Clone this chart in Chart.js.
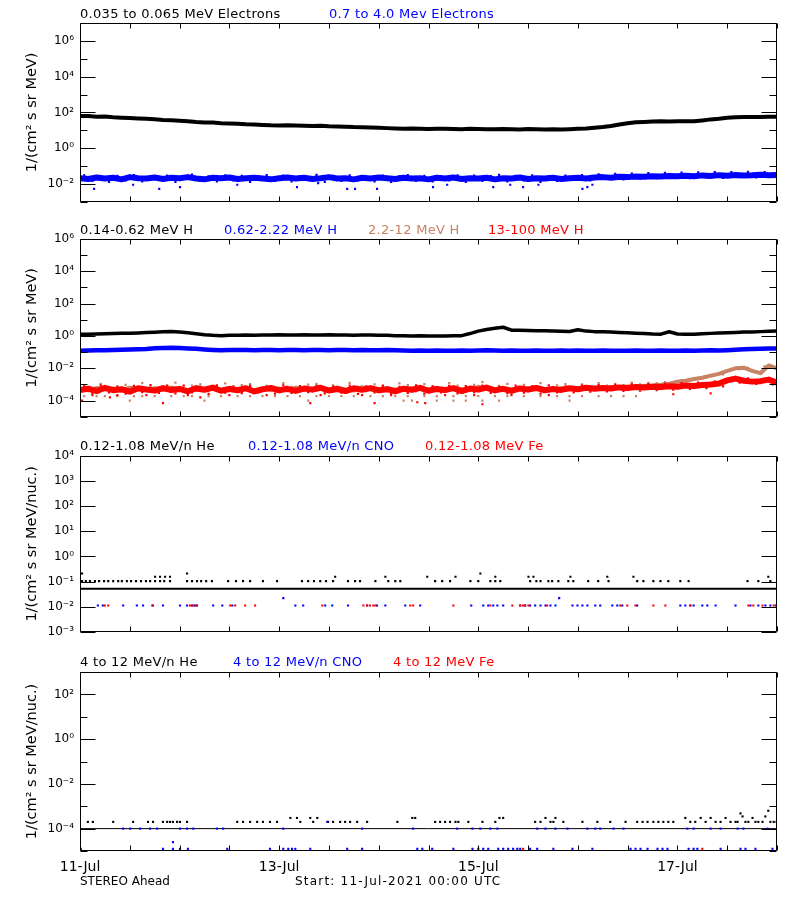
<!DOCTYPE html>
<html><head><meta charset="utf-8">
<script src="https://cdn.jsdelivr.net/npm/chart.js@4.4.1/dist/chart.umd.min.js"></script>
<style>
body{margin:0;background:#fff;width:800px;height:900px;position:relative;overflow:hidden;font-family:"DejaVu Sans",sans-serif;}
canvas{position:absolute;left:0;}
.t{position:absolute;font-size:13px;line-height:13px;white-space:nowrap;letter-spacing:0.3px;z-index:5;}
.b{position:absolute;font-size:12px;line-height:12px;white-space:nowrap;z-index:5;}
</style></head><body>
<canvas id="c1" width="800" height="215" style="top:0px"></canvas>
<canvas id="c2" width="800" height="215" style="top:215px"></canvas>
<canvas id="c3" width="800" height="215" style="top:430px"></canvas>
<canvas id="c4" width="800" height="255" style="top:645px"></canvas>

<div class="t" style="left:80px;top:7px;color:#000">0.035 to 0.065 MeV Electrons</div>
<div class="t" style="left:329px;top:7px;color:#0000ff">0.7 to 4.0 Mev Electrons</div>

<div class="t" style="left:80px;top:223px;color:#000">0.14-0.62 MeV H</div>
<div class="t" style="left:224px;top:223px;color:#0000ff">0.62-2.22 MeV H</div>
<div class="t" style="left:368px;top:223px;color:#c88264">2.2-12 MeV H</div>
<div class="t" style="left:488px;top:223px;color:#ff0000">13-100 MeV H</div>

<div class="t" style="left:80px;top:439px;color:#000">0.12-1.08 MeV/n He</div>
<div class="t" style="left:248px;top:439px;color:#0000ff">0.12-1.08 MeV/n CNO</div>
<div class="t" style="left:425px;top:439px;color:#ff0000">0.12-1.08 MeV Fe</div>

<div class="t" style="left:80px;top:655px;color:#000">4 to 12 MeV/n He</div>
<div class="t" style="left:233px;top:655px;color:#0000ff">4 to 12 MeV/n CNO</div>
<div class="t" style="left:393px;top:655px;color:#ff0000">4 to 12 MeV Fe</div>

<div class="b" style="left:80px;top:875px;">STEREO Ahead</div>
<div class="b" style="left:295px;top:875px;letter-spacing:1.2px">Start: 11-Jul-2021 00:00 UTC</div>

<script>
// ---------- axis / tick data ----------
const xTickHours = [0,12,24,36,48,60,72,84,96,108,120,132,144,156,168];
const xTickLabels = ['11-Jul','','','','13-Jul','','','','15-Jul','','','','17-Jul','',''];

const p1YTicks = [1e-3,1e-2,1e-1,1e0,1e1,1e2,1e3,1e4,1e5,1e6,1e7];
const p1YLabels = ['','10⁻²','','10⁰','','10²','','10⁴','','10⁶',''];
const p2YTicks = [1e-5,1e-4,1e-3,1e-2,1e-1,1e0,1e1,1e2,1e3,1e4,1e5,1e6];
const p2YLabels = ['','10⁻⁴','','10⁻²','','10⁰','','10²','','10⁴','','10⁶'];
const p3YTicks = [1e-3,1e-2,1e-1,1e0,1e1,1e2,1e3,1e4];
const p3YLabels = ['10⁻³','10⁻²','10⁻¹','10⁰','10¹','10²','10³','10⁴'];
const p4YTicks = [1e-5,1e-4,1e-3,1e-2,1e-1,1e0,1e1,1e2,1e3];
const p4YLabels = ['','10⁻⁴','','10⁻²','','10⁰','','10²',''];

// hours since 11-Jul-2021 00:00 UTC
const hours2 = [0,2,4,6,8,10,12,14,16,18,20,22,24,26,28,30,32,34,36,38,40,42,44,46,48,50,52,54,56,58,60,62,64,66,68,70,72,74,76,78,80,82,84,86,88,90,92,94,96,98,100,102,104,106,108,110,112,114,116,118,120,122,124,126,128,130,132,134,136,138,140,142,144,146,148,150,152,154,156,158,160,162,164,166,168];
const hoursOdd = [1,3,5,7,9,11,13,15,17,19,21,23,25,27,29,31,33,35,37,39,41,43,45,47,49,51,53,55,57,59,61,63,65,67,69,71,73,75,77,79,81,83,85,87,89,91,93,95,97,99,101,103,105,107,109,111,113,115,117,119,121,123,125,127,129,131,133,135,137,139,141,143,145,147,149,151,153,155,157,159,161,163,165,167];

// ---------- panel 1: electrons ----------
const eLow = [63,62,58,59,54,51,49,46,44,42,
  38,36,34,32,29,27.5,27,25,24,23.5,
  21.5,21,20,19,18.6,19,18.6,17.8,17.4,17.8,
  16.6,16.2,15.8,15.1,14.8,14.5,13.8,13.2,12.6,12.3,
  12.6,12,11.7,12.3,12,11.7,11.5,12,11.7,11.5,
  11.5,11.7,11.5,11.2,11.7,11.5,11.2,11.5,11.2,11.5,
  12,12.6,13.8,15.1,17.4,20.9,25,28,29.5,31,
  31.6,31,31.6,32.4,31.6,35.5,40.7,43.6,50,53.7,
  55,56,55,57.5,57.5];
const eHigh = [0.021,0.019,0.023,0.020,0.022,0.018,0.024,0.021,0.020,0.023,
  0.019,0.022,0.021,0.024,0.020,0.018,0.022,0.021,0.023,0.019,
  0.021,0.022,0.020,0.018,0.021,0.023,0.020,0.022,0.019,0.021,
  0.024,0.020,0.021,0.018,0.022,0.020,0.023,0.021,0.019,0.022,
  0.020,0.021,0.018,0.022,0.020,0.023,0.019,0.021,0.020,0.022,
  0.018,0.021,0.020,0.023,0.019,0.021,0.020,0.022,0.019,0.021,
  0.022,0.020,0.023,0.024,0.022,0.025,0.024,0.026,0.025,0.027,
  0.026,0.028,0.027,0.029,0.027,0.030,0.028,0.031,0.029,0.032,
  0.030,0.031,0.033,0.031,0.032];
const eHighSpread = [0.030,0.015,0.026,0.013,0.028,0.016,0.031,0.014,0.025,0.017,
  0.029,0.013,0.027,0.033,0.015,0.026,0.014,0.030,0.016,0.028,
  0.013,0.027,0.031,0.015,0.029,0.014,0.026,0.017,0.032,0.013,
  0.028,0.015,0.030,0.016,0.025,0.014,0.029,0.013,0.027,0.031,
  0.015,0.028,0.014,0.026,0.016,0.030,0.013,0.029,0.015,0.027,
  0.032,0.014,0.028,0.016,0.030,0.013,0.026,0.015,0.029,0.017,
  0.031,0.016,0.034,0.019,0.036,0.018,0.038,0.020,0.040,0.021,
  0.041,0.022,0.043,0.021,0.044,0.023,0.045,0.022,0.046,0.024,
  0.047,0.023,0.045,0.025];
const eHighLow = [[3.4,0.0053],[12.8,0.009],[19.1,0.0053],[24.1,0.0066],[37.9,0.009],[52.3,0.0066],[57.4,0.011],[64.4,0.0053],[66.3,0.0053],[71.6,0.0053],[85.1,0.0066],[88.5,0.009],[99.6,0.0066],[103.7,0.009],[106.8,0.0066],[110.5,0.009],[121.1,0.0053],[122.3,0.0066],[123.5,0.009]];

// ---------- panel 2: protons ----------
const hA = [1.26,1.29,1.32,1.38,1.41,1.45,1.48,1.55,1.62,1.70,
  1.82,1.91,1.78,1.58,1.38,1.20,1.10,1.05,1.10,1.12,
  1.15,1.12,1.17,1.15,1.20,1.17,1.15,1.20,1.17,1.15,
  1.20,1.17,1.15,1.12,1.17,1.15,1.12,1.10,1.05,1.02,
  1.00,1.02,1.00,0.98,1.00,1.02,1.05,1.41,2.00,2.51,
  3.02,3.47,2.29,2.29,2.19,2.14,2.09,2.00,1.95,1.91,
  2.40,2.00,1.86,1.82,1.74,1.66,1.58,1.48,1.41,1.32,
  1.29,1.82,1.32,1.26,1.29,1.38,1.45,1.51,1.58,1.66,
  1.74,1.78,1.86,1.95,2.00];
const hB = [0.123,0.126,0.129,0.132,0.135,0.141,0.145,0.151,0.158,0.174,
  0.182,0.186,0.178,0.170,0.162,0.148,0.138,0.132,0.135,0.138,
  0.135,0.132,0.138,0.135,0.132,0.135,0.138,0.132,0.135,0.138,
  0.132,0.135,0.138,0.132,0.135,0.132,0.129,0.135,0.129,0.126,
  0.123,0.126,0.120,0.126,0.123,0.120,0.126,0.123,0.126,0.129,
  0.126,0.123,0.126,0.120,0.123,0.126,0.123,0.120,0.126,0.123,
  0.126,0.123,0.120,0.126,0.123,0.120,0.123,0.126,0.120,0.123,
  0.126,0.123,0.120,0.126,0.123,0.126,0.129,0.126,0.132,0.141,
  0.151,0.158,0.162,0.166,0.170];
const hC = [5.2e-4,4.3e-4,6.1e-4,4.8e-4,5.6e-4,4.1e-4,6.4e-4,5.0e-4,4.5e-4,5.9e-4,
  4.7e-4,6.6e-4,5.1e-4,4.2e-4,7.0e-4,4.9e-4,5.5e-4,4.4e-4,6.2e-4,4.8e-4,
  5.3e-4,4.1e-4,6.0e-4,4.6e-4,5.7e-4,4.3e-4,6.3e-4,5.0e-4,4.4e-4,5.8e-4,
  4.6e-4,6.5e-4,4.9e-4,4.2e-4,6.8e-4,5.1e-4,4.5e-4,5.9e-4,4.7e-4,5.4e-4,
  4.3e-4,6.1e-4,4.8e-4,5.6e-4,4.1e-4,6.4e-4,5.0e-4,4.6e-4,7.2e-4,5.2e-4,
  4.5e-4,6.0e-4,4.8e-4,5.5e-4,4.3e-4,6.2e-4,5.0e-4,4.7e-4,5.8e-4,5.3e-4,
  6.0e-4,5.2e-4,6.5e-4,5.8e-4,6.9e-4,6.2e-4,7.4e-4,7.0e-4,8.1e-4,8.6e-4,
  9.5e-4,1.1e-3,1.5e-3,1.7e-3,2.2e-3,2.6e-3,3.5e-3,4.5e-3,7.0e-3,1.0e-2,
  1.1e-2,7.0e-3,5.0e-3,1.5e-2,1.0e-2];
const hCSpread = [8.0e-4,3.5e-4,1.1e-3,4.0e-4,7.5e-4,9.5e-4,3.8e-4,1.2e-3,6.5e-4,4.2e-4,
  9.0e-4,1.3e-3,3.6e-4,8.5e-4,1.0e-3,4.1e-4,7.8e-4,1.15e-3,3.9e-4,9.2e-4,
  1.05e-3,4.3e-4,8.2e-4,3.7e-4,1.2e-3,7.0e-4,4.0e-4,9.8e-4,1.1e-3,3.8e-4,
  8.8e-4,4.4e-4,1.25e-3,7.2e-4,3.9e-4,1.0e-3,8.0e-4,4.1e-4,1.15e-3,9.0e-4,
  3.7e-4,1.05e-3,7.6e-4,4.2e-4,1.2e-3,8.6e-4,3.8e-4,9.4e-4,1.4e-3,4.0e-4,
  8.3e-4,1.1e-3,4.3e-4,9.6e-4,7.4e-4,1.2e-3,3.9e-4,8.8e-4,1.05e-3,4.5e-4,
  1.0e-3,7.8e-4,1.2e-3,8.5e-4,1.1e-3,9.2e-4,1.3e-3,1.0e-3,1.25e-3,1.2e-3,
  1.4e-3,1.3e-3,1.7e-3,1.9e-3,2.4e-3,2.8e-3,3.9e-3,4.2e-3,8.0e-3,9.0e-3,
  1.05e-2,6.5e-3,1.3e-2,1.2e-2];
const hCLow = [[1,1.9e-4],[4,1.9e-4],[6,1.9e-4],[9,1.9e-4],[13,1.9e-4],[15,1.9e-4],[18,1.9e-4],[22,1.9e-4],[25,1.9e-4],[27,1.9e-4],[31,1.9e-4],[34,1.9e-4],[38,1.9e-4],[41,1.9e-4],[44,1.9e-4],[47,1.9e-4],[50,1.9e-4],[53,1.9e-4],[57,1.9e-4],[60,1.9e-4],[63,1.9e-4],[66,1.9e-4],[70,1.9e-4],[73,1.9e-4],[76,1.9e-4],[79,1.9e-4],[83,1.9e-4],[86,1.9e-4],[90,1.9e-4],[93,1.9e-4],[96,1.9e-4],[100,1.9e-4],[103,1.9e-4],[107,1.9e-4],[111,1.9e-4],[115,1.9e-4],[118,1.9e-4],[121,1.9e-4],[125,1.9e-4],[128,1.9e-4],[131,1.9e-4],[134,1.9e-4],
  [12,1.0e-4],[30,1.0e-4],[55,1.0e-4],[78,1.0e-4],[80,1.0e-4],[86,1.0e-4],[90,1.0e-4],[93,1.0e-4],[97,1.0e-4],[101,1.0e-4],[118,1.0e-4]];
const hD = [4.6e-4,5.5e-4,3.9e-4,6.2e-4,4.4e-4,5.1e-4,3.6e-4,5.8e-4,4.9e-4,4.2e-4,
  6.0e-4,4.5e-4,5.3e-4,3.8e-4,5.7e-4,4.7e-4,6.4e-4,4.1e-4,5.2e-4,4.4e-4,
  5.9e-4,3.7e-4,5.0e-4,6.1e-4,4.3e-4,5.4e-4,4.0e-4,5.6e-4,4.8e-4,6.3e-4,
  4.2e-4,5.2e-4,3.9e-4,5.8e-4,4.6e-4,6.0e-4,4.4e-4,5.1e-4,3.8e-4,5.5e-4,
  4.7e-4,6.2e-4,4.1e-4,5.3e-4,4.5e-4,5.9e-4,3.9e-4,5.6e-4,4.8e-4,6.4e-4,
  4.3e-4,5.4e-4,4.0e-4,5.7e-4,4.9e-4,6.1e-4,4.4e-4,5.2e-4,4.6e-4,5.8e-4,
  5.0e-4,6.3e-4,5.4e-4,6.0e-4,5.7e-4,6.6e-4,6.1e-4,7.0e-4,6.5e-4,7.3e-4,
  6.9e-4,7.8e-4,7.2e-4,8.5e-4,8.0e-4,9.3e-4,1.0e-3,1.15e-3,1.8e-3,2.3e-3,
  1.7e-3,1.5e-3,1.6e-3,2.0e-3,1.3e-3];
const hDSpread = [7.5e-4,2.9e-4,8.8e-4,3.2e-4,7.0e-4,2.7e-4,8.2e-4,3.4e-4,9.0e-4,3.0e-4,
  7.8e-4,2.8e-4,8.5e-4,3.3e-4,7.2e-4,2.6e-4,8.9e-4,3.1e-4,7.6e-4,2.9e-4,
  8.3e-4,3.2e-4,7.4e-4,2.7e-4,8.7e-4,3.0e-4,7.9e-4,3.4e-4,8.1e-4,2.8e-4,
  7.3e-4,3.1e-4,8.6e-4,2.6e-4,7.7e-4,3.3e-4,8.4e-4,2.9e-4,7.1e-4,3.0e-4,
  8.8e-4,2.7e-4,7.5e-4,3.2e-4,8.2e-4,2.8e-4,7.9e-4,3.4e-4,8.6e-4,3.0e-4,
  7.2e-4,2.9e-4,8.4e-4,3.1e-4,7.7e-4,2.7e-4,8.9e-4,3.3e-4,7.4e-4,3.2e-4,
  8.6e-4,3.6e-4,9.2e-4,3.8e-4,9.6e-4,4.0e-4,1.0e-3,4.2e-4,1.05e-3,4.5e-4,
  1.1e-3,4.8e-4,1.2e-3,5.3e-4,1.3e-3,6.0e-4,1.5e-3,7.5e-4,2.6e-3,1.3e-3,
  2.4e-3,1.1e-3,2.2e-3,1.0e-3];
const hDLow = [[0.5,1.0e-4],[7.2,1.6e-4],[20,7e-5],[29,1.6e-4],[55.5,7e-5],[71,7e-5],[81.3,8e-5],[83.2,7e-5],[97,6e-5],[143,2.5e-4],[152,2.8e-4],
  [3,2.2e-4],[9,2.2e-4],[16,2.2e-4],[26,2.2e-4],[36,2.2e-4],[45,2.2e-4],[58,2.2e-4],[68,2.2e-4],[75,2.2e-4],[88,2.2e-4],[95,2.2e-4],[104,2.2e-4],[113,2.2e-4]];

// ---------- panel 3: 0.12-1.08 MeV/n ions ----------
const he3Base = [[0,0.052],[168,0.052]];
const he3Pts = [[0.5,0.104],[1.4,0.104],[2.4,0.104],[3.6,0.104],[4.6,0.104],[5.8,0.104],[6.8,0.104],[8.0,0.104],[9.2,0.104],[10.1,0.104],[11.3,0.104],[12.3,0.104],[13.5,0.104],[14.7,0.104],[15.9,0.104],[16.9,0.104],[18.1,0.104],[19.3,0.104],[20.3,0.104],[21.7,0.104],[25.8,0.104],[27.0,0.104],[28.2,0.104],[29.2,0.104],[30.4,0.104],[31.8,0.104],[35.7,0.104],[37.6,0.104],[39.3,0.104],[41.0,0.104],[44.1,0.104],[47.5,0.104],[53.5,0.104],[55.0,0.104],[56.4,0.104],[57.9,0.104],[59.3,0.104],[61.0,0.104],[64.6,0.104],[66.3,0.104],[67.5,0.104],[71.2,0.104],[74.3,0.104],[76.0,0.104],[77.2,0.104],[85.6,0.104],[87.3,0.104],[89.2,0.104],[94.1,0.104],[96.0,0.104],[98.9,0.104],[100.1,0.104],[101.3,0.104],[108.5,0.104],[110.0,0.104],[111.0,0.104],[112.9,0.104],[113.8,0.104],[115.3,0.104],[117.7,0.104],[118.9,0.104],[122.5,0.104],[124.9,0.104],[127.4,0.104],[134.3,0.104],[135.8,0.104],[138.2,0.104],[139.9,0.104],[141.8,0.104],[144.7,0.104],[146.7,0.104],[160.9,0.104],[163.5,0.104],[166.4,0.104],
  [0.5,0.21],[18.1,0.156],[19.3,0.156],[20.5,0.156],[21.7,0.156],[25.8,0.21],[61.5,0.156],[73.6,0.156],[83.7,0.156],[90.5,0.156],[96.5,0.21],[100.1,0.156],[108.1,0.156],[109.3,0.156],[118.2,0.156],[127.1,0.156],[133.4,0.156],[165.9,0.156]];
const cno3Pts = [[4.3,0.0112],[5.5,0.0112],[10.4,0.0112],[13.7,0.0112],[15.2,0.0112],[17.6,0.0112],[20.0,0.0112],[24.1,0.0112],[25.8,0.0112],[27.0,0.0112],[27.7,0.0112],[28.2,0.0112],[32.1,0.0112],[34.3,0.0112],[36.7,0.0112],[51.9,0.0112],[53.8,0.0112],[59.1,0.0112],[60.8,0.0112],[64.6,0.0112],[69.2,0.0112],[71.6,0.0112],[73.6,0.0112],[78.4,0.0112],[82.0,0.0112],[94.3,0.0112],[97.2,0.0112],[98.4,0.0112],[99.6,0.0112],[100.6,0.0112],[102.0,0.0112],[106.1,0.0112],[107.3,0.0112],[108.5,0.0112],[109.7,0.0112],[111.0,0.0112],[112.2,0.0112],[113.4,0.0112],[114.6,0.0112],[118.7,0.0112],[119.9,0.0112],[121.1,0.0112],[122.3,0.0112],[124.2,0.0112],[125.4,0.0112],[128.3,0.0112],[129.5,0.0112],[130.7,0.0112],[134.3,0.0112],[144.7,0.0112],[145.9,0.0112],[147.1,0.0112],[147.9,0.0112],[150.0,0.0112],[151.2,0.0112],[153.2,0.0112],[158.0,0.0112],[161.6,0.0112],[163.5,0.0112],[165.2,0.0112],[166.4,0.0112],[167.7,0.0112],
  [49.0,0.022],[115.5,0.022]];
const fe3Pts = [[6.0,0.0112],[6.8,0.0112],[17.4,0.0112],[26.5,0.0112],[27.3,0.0112],[28.2,0.0112],[36.2,0.0112],[37.4,0.0112],[39.8,0.0112],[42.2,0.0112],[58.4,0.0112],[68.3,0.0112],[69.2,0.0112],[69.9,0.0112],[70.7,0.0112],[71.2,0.0112],[79.6,0.0112],[80.3,0.0112],[90.0,0.0112],[98.9,0.0112],[104.2,0.0112],[106.1,0.0112],[106.8,0.0112],[107.3,0.0112],[108.1,0.0112],[112.6,0.0112],[130.2,0.0112],[131.9,0.0112],[133.9,0.0112],[138.2,0.0112],[141.1,0.0112],[147.1,0.0112],[161.1,0.0112],[162.3,0.0112],[164.5,0.0112],[167.2,0.0112],[167.8,0.0112]];

// ---------- panel 4: 4-12 MeV/n ions ----------
const he4Base = [[0,1e-4],[168,1e-4]];
const he4Pts = [[1.9,2e-4],[3.1,2e-4],[8.0,2e-4],[12.8,2e-4],[16.4,2e-4],[17.6,2e-4],[20.0,2e-4],[21.0,2e-4],[21.7,2e-4],[22.4,2e-4],[23.4,2e-4],[24.1,2e-4],[25.8,2e-4],[37.9,2e-4],[39.3,2e-4],[41.0,2e-4],[42.7,2e-4],[44.1,2e-4],[45.8,2e-4],[47.5,2e-4],[50.7,3e-4],[52.3,3e-4],[53.1,2e-4],[55.5,3e-4],[56.2,2e-4],[57.2,3e-4],[59.8,2e-4],[61.0,2e-4],[62.7,2e-4],[63.9,2e-4],[65.1,2e-4],[66.8,2e-4],[69.2,2e-4],[76.5,2e-4],[80.1,3e-4],[80.8,3e-4],[85.6,2e-4],[86.8,2e-4],[88.0,2e-4],[89.2,2e-4],[90.5,2e-4],[91.2,2e-4],[93.6,2e-4],[97.0,2e-4],[100.1,2e-4],[101.1,3e-4],[102.0,3e-4],[109.7,2e-4],[111.0,2e-4],[112.2,3e-4],[113.4,2e-4],[114.1,2e-4],[114.6,3e-4],[116.5,2e-4],[121.1,2e-4],[124.7,2e-4],[127.8,2e-4],[131.5,2e-4],[134.3,2e-4],[135.6,2e-4],[136.8,2e-4],[138.2,2e-4],[139.4,2e-4],[140.6,2e-4],[141.8,2e-4],[143.0,2e-4],[145.9,3e-4],[147.1,2e-4],[148.3,2e-4],[149.6,3e-4],[150.8,2e-4],[152.0,3e-4],[153.2,2e-4],[154.4,2e-4],[155.6,3e-4],[156.8,2e-4],[158.0,2e-4],[158.5,2e-4],[159.2,4.8e-4],[159.7,3.5e-4],[160.4,2e-4],[161.1,2e-4],[162.1,3e-4],[162.8,2e-4],[163.5,2e-4],[164.5,2e-4],[165.2,3.5e-4],[165.9,6.3e-4],[166.4,2e-4],[167.2,2e-4],[167.9,2e-4]];
const cno4Pts = [[0.2,1.25e-5],[20.0,1.25e-5],[22.4,1.25e-5],[24.1,1.25e-5],[26.0,1.25e-5],[35.5,1.25e-5],[45.8,1.25e-5],[49.0,1.25e-5],[50.2,1.25e-5],[51.1,1.25e-5],[51.9,1.25e-5],[55.5,1.25e-5],[64.4,1.25e-5],[68.0,1.25e-5],[81.3,1.25e-5],[82.5,1.25e-5],[84.9,1.25e-5],[90.0,1.25e-5],[94.6,1.25e-5],[96.0,1.25e-5],[97.2,1.25e-5],[98.4,1.25e-5],[100.8,1.25e-5],[102.0,1.25e-5],[103.2,1.25e-5],[104.4,1.25e-5],[105.4,1.25e-5],[106.1,1.25e-5],[108.5,1.25e-5],[110.2,1.25e-5],[114.1,1.25e-5],[118.7,1.25e-5],[123.5,1.25e-5],[132.7,1.25e-5],[133.9,1.25e-5],[135.1,1.25e-5],[136.8,1.25e-5],[139.2,1.25e-5],[140.4,1.25e-5],[141.6,1.25e-5],[146.7,1.25e-5],[147.9,1.25e-5],[148.8,1.25e-5],[154.4,1.25e-5],[159.2,1.25e-5],[160.4,1.25e-5],[162.8,1.25e-5],[166.9,1.25e-5],
  [22.4,2.5e-5],[59.6,2e-4],
  [10.4,1e-4],[12.1,1e-4],[14.5,1e-4],[16.9,1e-4],[18.6,1e-4],[24.1,1e-4],[25.8,1e-4],[27.3,1e-4],[33.0,1e-4],[34.5,1e-4],[49.0,1e-4],[68.0,1e-4],[80.3,1e-4],[90.9,1e-4],[94.6,1e-4],[96.5,1e-4],[98.9,1e-4],[100.6,1e-4],[110.2,1e-4],[112.2,1e-4],[114.6,1e-4],[117.5,1e-4],[122.3,1e-4],[124.2,1e-4],[125.4,1e-4],[128.6,1e-4],[131.0,1e-4],[146.4,1e-4],[147.9,1e-4],[152.0,1e-4],[154.4,1e-4],[158.5,1e-4],[159.9,1e-4],[165.7,1e-4]];
const fe4Pts = [[106.8,1.25e-5],[150.0,1.25e-5]];

// ---------- helpers ----------
const BLACK = '#000000', BLUE = '#0000ff', RED = '#ff0000', SIENNA = '#c88264';
const series = (hrs, vals) => hrs.map((h, i) => ({x: h, y: vals[i]}));
const pairs = arr => arr.map(p => ({x: p[0], y: p[1]}));
const lineDs = (data, color, w) => ({data, showLine: true, borderColor: color, backgroundColor: color, borderWidth: w, pointRadius: 0, borderJoinStyle: 'round', tension: 0});
const dotDs = (data, color, r) => ({data, showLine: false, backgroundColor: color, borderColor: color, borderWidth: 0, pointStyle: 'rect', pointRadius: r || 1.5});

const frameTicks = {
  id: 'frameTicks',
  afterDatasetsDraw(chart) {
    const {ctx, chartArea: a} = chart;
    const xs = chart.scales.x, ys = chart.scales.y;
    const L = Math.round(a.left) + 0.5, R = Math.round(a.right) - 0.5;
    const T = Math.round(a.top) + 0.5, B = Math.round(a.bottom) - 0.5;
    ctx.save();
    ctx.strokeStyle = '#000'; ctx.lineWidth = 1;
    ctx.beginPath();
    ctx.rect(L, T, R - L, B - T);
    xs.ticks.forEach(t => {
      const px = Math.round(xs.getPixelForValue(t.value)) + 0.5;
      ctx.moveTo(px, B); ctx.lineTo(px, B - 5);
      ctx.moveTo(px, T); ctx.lineTo(px, T + 5);
    });
    ys.ticks.forEach(t => {
      const py = Math.round(ys.getPixelForValue(t.value)) + 0.5;
      const len = t.label ? 15 : 7;
      ctx.moveTo(L, py); ctx.lineTo(L + len, py);
      ctx.moveTo(R, py); ctx.lineTo(R - len, py);
    });
    ctx.stroke();
    ctx.restore();
  }
};

Chart.defaults.font.family = '"DejaVu Sans", sans-serif';
Chart.defaults.color = '#000';

function makePanel(id, cfg) {
  return new Chart(document.getElementById(id), {
    type: 'scatter',
    data: {datasets: cfg.datasets},
    options: {
      responsive: false, animation: false, devicePixelRatio: 1,
      layout: {padding: {top: cfg.padTop, right: 23, left: 0, bottom: 0}},
      plugins: {legend: {display: false}, tooltip: {enabled: false}},
      events: [],
      scales: {
        x: {
          type: 'linear', min: 0, max: 168,
          grid: {display: false, drawTicks: false}, border: {display: false},
          ticks: {display: !!cfg.showX, autoSkip: false, maxRotation: 0, minRotation: 0, padding: 8,
                  font: {size: 14}, callback: (v, i) => xTickLabels[i]},
          afterBuildTicks: s => { s.ticks = xTickHours.map(v => ({value: v})); },
          afterFit: s => { s.height = cfg.xHeight; }
        },
        y: {
          type: 'logarithmic', min: cfg.yTicks[0], max: cfg.yTicks[cfg.yTicks.length - 1],
          grid: {display: false, drawTicks: false}, border: {display: false},
          ticks: {autoSkip: false, padding: 6, font: {size: 12}, callback: (v, i) => cfg.yLabels[i]},
          afterBuildTicks: s => { s.ticks = cfg.yTicks.map(v => ({value: v})); },
          afterFit: s => { s.width = 80; },
          title: {display: true, text: cfg.yTitle, font: {size: 14.5}, padding: {top: 24, bottom: 0}}
        }
      }
    },
    plugins: [frameTicks]
  });
}

makePanel('c1', {
  padTop: 23, xHeight: 12, yTicks: p1YTicks, yLabels: p1YLabels, yTitle: '1/(cm² s sr MeV)',
  datasets: [
    lineDs(series(hours2, eLow), BLACK, 4),
    dotDs(series(hoursOdd, eHighSpread), BLUE, 1.6),
    lineDs(series(hours2, eHigh), BLUE, 6),
    dotDs(pairs(eHighLow), BLUE, 1.5)
  ]
});

makePanel('c2', {
  padTop: 24, xHeight: 11, yTicks: p2YTicks, yLabels: p2YLabels, yTitle: '1/(cm² s sr MeV)',
  datasets: [
    lineDs(series(hours2, hA), BLACK, 3.5),
    lineDs(series(hours2, hB), BLUE, 4.5),
    lineDs(series(hours2, hD), RED, 6),
    dotDs(series(hoursOdd, hDSpread), RED, 1.6),
    dotDs(pairs(hDLow), RED, 1.5),
    lineDs(series(hours2, hC), SIENNA, 4),
    dotDs(series(hoursOdd, hCSpread), SIENNA, 1.6),
    dotDs(pairs(hCLow), SIENNA, 1.5)
  ]
});

makePanel('c3', {
  padTop: 26, xHeight: 11, yTicks: p3YTicks, yLabels: p3YLabels, yTitle: '1/(cm² s sr MeV/nuc.)',
  datasets: [
    lineDs(pairs(he3Base), BLACK, 2),
    dotDs(pairs(he3Pts), BLACK, 1.5),
    dotDs(pairs(fe3Pts), RED, 1.5),
    dotDs(pairs(cno3Pts), BLUE, 1.5)
  ]
});

makePanel('c4', {
  padTop: 27, xHeight: 49, showX: true, yTicks: p4YTicks, yLabels: p4YLabels, yTitle: '1/(cm² s sr MeV/nuc.)',
  datasets: [
    dotDs(pairs(fe4Pts), RED, 1.5),
    dotDs(pairs(cno4Pts), BLUE, 1.5),
    dotDs(pairs(he4Pts), BLACK, 1.5),
    lineDs(pairs(he4Base), BLACK, 1)
  ]
});
</script>
</body></html>
